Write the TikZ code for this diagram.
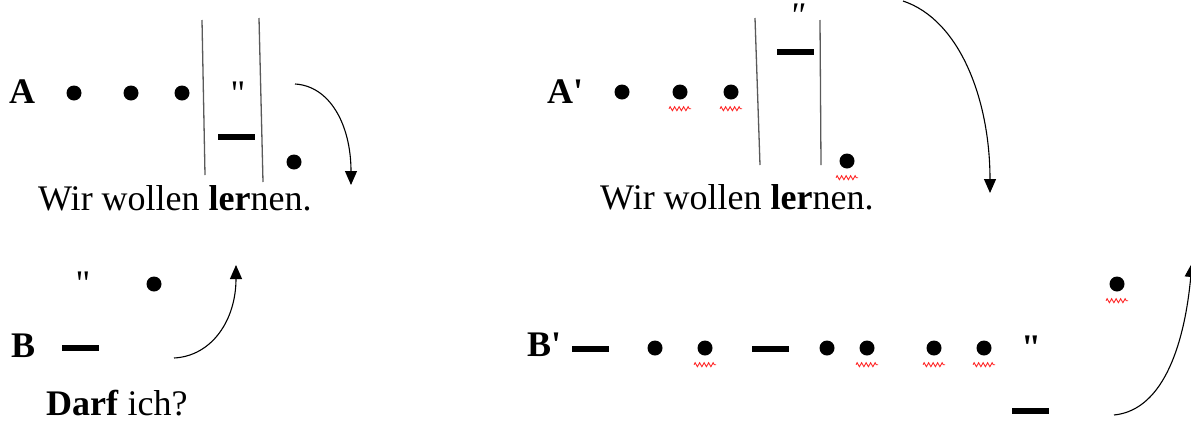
\documentclass[tikz,border=0pt]{standalone}
\usepackage{fontspec}
\setmainfont{Liberation Serif}[Ligatures=TeXOff]
\usetikzlibrary{arrows.meta,decorations.pathmorphing}
\tikzset{
  bul/.style={circle,fill=black,inner sep=0pt,minimum size=15pt},
  barmark/.style={rectangle,fill=black,inner sep=0pt,minimum width=37pt,minimum height=6pt},
  vline/.style={draw=black!65,line width=1.3pt},
  arr/.style={-{Triangle[length=14pt,width=12pt]},line width=1.1pt},
  squig/.style={draw=red!85!white,line width=0.9pt,decorate,decoration={zigzag,segment length=4.5pt,amplitude=2pt}},
  txt/.style={font=\fontsize{36}{40}\selectfont,inner sep=0pt,anchor=base west},
  qm/.style={font=\fontsize{36}{40}\selectfont,inner sep=0pt,anchor=base}
}
\begin{document}
\begin{tikzpicture}[x=1pt,y=-1pt]
\useasboundingbox (0,0) rectangle (1191,421);
% ---------- Panel A ----------
\node[txt,font=\fontsize{36}{40}\selectfont\bfseries] (labA) at (9,103) {A};
\node[bul] (a1) at (74,93) {};
\node[bul] (a2) at (131,93) {};
\node[bul] (a3) at (182,93) {};
\coordinate (aL1) at (202,20); \coordinate (aL2) at (205,175);
\coordinate (aR1) at (259,18); \coordinate (aR2) at (263,182);
\draw[vline] (aL1) -- (aL2);
\draw[vline] (aR1) -- (aR2);
\node[qm] (aq) at (238,105) {"};
\node[barmark] (ab) at (236,137) {};
\node[bul] (a4) at (294,162) {};
\coordinate (aS) at (295,84); \coordinate (aE) at (351,185);
\draw[arr] (aS) .. controls (330,86) and (351,125) .. (aE);
\node[txt] (tA) at (38,210) {Wir wollen \textbf{ler}nen.};
% ---------- Panel B ----------
\node[qm] (bq) at (83,295) {"};
\node[bul] (b1) at (154,284) {};
\node[txt,font=\fontsize{36}{40}\selectfont\bfseries] (labB) at (11,357) {B};
\node[barmark] (bb) at (80,348) {};
\coordinate (bS) at (174,358); \coordinate (bE) at (236,265);
\draw[arr] (bS) .. controls (212,356) and (236,320) .. (bE);
\node[txt] (tB) at (46,415) {\textbf{Darf} ich?};
% ---------- Panel A' ----------
\node[txt,font=\fontsize{36}{40}\selectfont\bfseries] (labA2) at (547,103) {A'};
\node[bul] (c1) at (622,92) {};
\node[bul] (c2) at (680,92) {};
\node[bul] (c3) at (731,92) {};
\coordinate (cL1) at (755,18); \coordinate (cL2) at (760,165);
\coordinate (cR1) at (820,20); \coordinate (cR2) at (821,165);
\draw[vline] (cL1) -- (cL2);
\draw[vline] (cR1) -- (cR2);
\node[qm] (cq) at (797,27) {\itshape "};
\node[barmark] (cb) at (795,52) {};
\node[bul] (c4) at (847,161) {};
\foreach \n in {c2,c3,c4}
  \draw[squig] ([xshift=-11pt,yshift=-9pt]\n.south) -- ++(22,0);
\coordinate (cS) at (903,1); \coordinate (cE) at (990,193);
\draw[arr] (cS) .. controls (960,20) and (990,100) .. (cE);
\node[txt] (tA2) at (600,209) {Wir wollen \textbf{ler}nen.};
% ---------- Panel B' ----------
\node[txt,font=\fontsize{36}{40}\selectfont\bfseries] (labB2) at (527,356) {B'};
\node[barmark] (d0) at (590,349) {};
\node[bul] (d1) at (655,348) {};
\node[bul] (d2) at (705,348) {};
\node[barmark] (d3) at (770,349) {};
\node[bul] (d4) at (827,348) {};
\node[bul] (d5) at (867,348) {};
\node[bul] (d6) at (934,348) {};
\node[bul] (d7) at (984,348) {};
\node[qm] (dq) at (1031,359) {\bfseries "};
\node[bul] (d8) at (1117,284) {};
\node[barmark] (d9) at (1030,411) {};
\foreach \n in {d2,d5,d6,d7,d8}
  \draw[squig] ([xshift=-11pt,yshift=-9pt]\n.south) -- ++(22,0);
\coordinate (dS) at (1114,415); \coordinate (dE) at (1192,263);
\draw[arr] (dS) .. controls (1165,410) and (1185,340) .. (dE);
\end{tikzpicture}
\end{document}
